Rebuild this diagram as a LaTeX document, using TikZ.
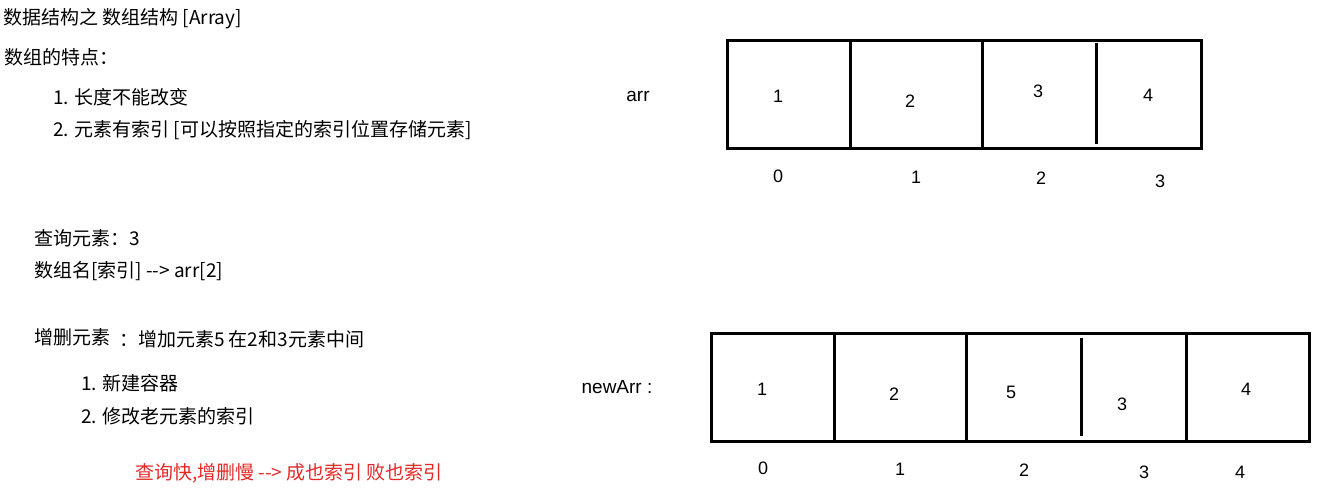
\documentclass[tikz,border=0pt]{standalone}
\usepackage{fontspec}
\setmainfont{Noto Sans CJK SC}
\newfontfamily\arialfont{Liberation Sans}
\usetikzlibrary{positioning}
\usepackage{xcolor}
\definecolor{hintred}{RGB}{228,40,40}
\tikzset{%
  % Specifications for style of nodes:
         base/.style = {inner sep=0pt, font=\fontsize{19}{22}\selectfont},
         note/.style = {base, anchor=west},
      redNote/.style = {note, text=hintred},
      cellVal/.style = {inner sep=0pt, font=\arialfont\fontsize{18}{20}\selectfont},
      arrName/.style = {inner sep=0pt, font=\arialfont\fontsize{19}{22}\selectfont},
       arrBox/.style = {draw=black, line width=3pt},
      divider/.style = {draw=black, line width=3pt},
}
\begin{document}
\begin{tikzpicture}[x=1pt, y=-1pt]
  \useasboundingbox (0,0) rectangle (1322,489);
  % Specification of text nodes on the left
  \node (title)   [note] at (3,19)   {数据结构之 数组结构 [Array]};
  \node (feature) [note] at (4,57)   {数组的特点：};
  \node (feat1)   [note] at (53,97)  {1. 长度不能改变};
  \node (feat2)   [note] at (53,130) {2. 元素有索引 [可以按照指定的索引位置存储元素]};
  \node (query)   [note] at (34,238) {查询元素：3};
  \node (access)  [note] at (34,271) {数组名[索引] {-}{-}> arr[2]};
  \node (change)  [note] at (34,337) {增删元素};
  \node (insert)  [note] at (119,339) {：增加元素5 在2和3元素中间};
  \node (step1)   [note] at (81,383) {1. 新建容器};
  \node (step2)   [note] at (81,416) {2. 修改老元素的索引};
  \node (summary) [redNote] at (135,473) {查询快,增删慢 {-}{-}> 成也索引 败也索引};
  % Specification of array names
  \node (arr)    [arrName] at (638,96)  {arr};
  \node (newArr) [arrName] at (617,387) {newArr :};
  % Old array with its cells
  \draw[arrBox]  (727,41) rectangle (1201,149);
  \draw[divider] (850,41) -- (850,149);
  \draw[divider] (982,41) -- (982,149);
  \draw[divider] (1096,43) -- (1096,144);
  \node (a1) [cellVal] at (778,96)  {1};
  \node (a2) [cellVal] at (910,101) {2};
  \node (a3) [cellVal] at (1038,91) {3};
  \node (a4) [cellVal] at (1148,95) {4};
  \node (i0) [cellVal] at (778,176) {0};
  \node (i1) [cellVal] at (916,177) {1};
  \node (i2) [cellVal] at (1041,178) {2};
  \node (i3) [cellVal] at (1160,181) {3};
  % New array with its cells
  \draw[arrBox]  (711,333) rectangle (1309,441);
  \draw[divider] (834,333) -- (834,441);
  \draw[divider] (966,333) -- (966,441);
  \draw[divider] (1081,338) -- (1081,436);
  \draw[divider] (1186,333) -- (1186,441);
  \node (b1) [cellVal] at (762,389)  {1};
  \node (b2) [cellVal] at (894,394)  {2};
  \node (b5) [cellVal] at (1011,392) {5};
  \node (b3) [cellVal] at (1122,404) {3};
  \node (b4) [cellVal] at (1246,389) {4};
  \node (j0) [cellVal] at (763,468)  {0};
  \node (j1) [cellVal] at (900,469)  {1};
  \node (j2) [cellVal] at (1024,470) {2};
  \node (j3) [cellVal] at (1144,472) {3};
  \node (j4) [cellVal] at (1240,472) {4};
\end{tikzpicture}
\end{document}
